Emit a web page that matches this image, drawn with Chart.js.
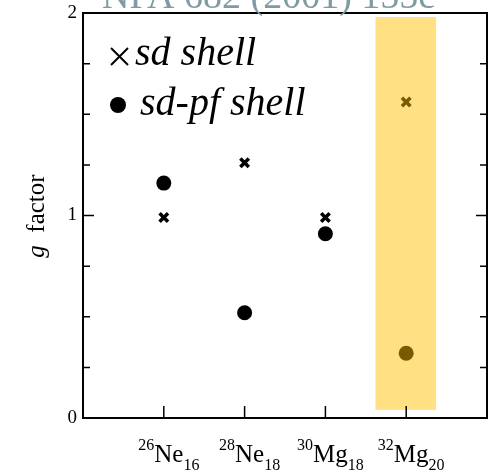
<!DOCTYPE html>
<html>
<head>
<meta charset="utf-8">
<script src="https://cdn.jsdelivr.net/npm/chart.js@4.4.0/dist/chart.umd.min.js"></script>
<style>
  html, body { margin: 0; padding: 0; background: #fff; }
  #wrap { width: 502px; height: 473px; position: relative; }
</style>
</head>
<body>
<div id="wrap"><canvas id="chart"></canvas></div>
<script>
// Nuclei along the x axis: mass number, element, neutron number
const massNumbers = ['26', '28', '30', '32'];
const elements = ['Ne', 'Ne', 'Mg', 'Mg'];
const neutronNumbers = ['16', '18', '18', '20'];

// g factors
const sdShell = [0.99, 1.26, 0.99, 1.56];
const sdPfShell = [1.16, 0.52, 0.91, 0.32];

// Highlighted nucleus (32Mg) band, in axis units
const bandX = [3.62, 4.37];
const bandY = [0.04, 1.98];
const highlightIndex = 3;

const yTickLabels = ['0', '1', '2'];

const serif = '"Liberation Serif", "DejaVu Serif", serif';

function pointsOf(values) {
  return values.map((v, i) => ({ x: i + 1, y: v }));
}
function colorsFor(values, normal, hi) {
  return values.map((v, i) => (i === highlightIndex ? hi : normal));
}

// Yellow band behind the 32Mg points
const bandPlugin = {
  id: 'band',
  beforeDatasetsDraw(chart) {
    const { ctx, scales: { x, y } } = chart;
    const x0 = x.getPixelForValue(bandX[0]);
    const x1 = x.getPixelForValue(bandX[1]);
    const y0 = y.getPixelForValue(bandY[1]);
    const y1 = y.getPixelForValue(bandY[0]);
    ctx.save();
    ctx.fillStyle = '#ffe083';
    ctx.fillRect(x0, y0, x1 - x0, y1 - y0);
    ctx.restore();
  }
};

// Frame, inward ticks, nuclide labels, legend and watermark
const decorPlugin = {
  id: 'decor',
  afterDraw(chart) {
    const { ctx, chartArea: a, scales: { x, y } } = chart;
    ctx.save();
    ctx.strokeStyle = '#000';
    ctx.lineWidth = 2;
    ctx.strokeRect(a.left, a.top, a.right - a.left, a.bottom - a.top);

    // y ticks on both sides
    ctx.lineWidth = 1.5;
    y.ticks.forEach(t => {
      const py = y.getPixelForValue(t.value);
      const len = Number.isInteger(t.value) ? 11 : 7;
      ctx.beginPath();
      ctx.moveTo(a.left, py); ctx.lineTo(a.left + len, py);
      ctx.moveTo(a.right, py); ctx.lineTo(a.right - len, py);
      ctx.stroke();
    });
    // x ticks at each nucleus
    massNumbers.forEach((m, i) => {
      const px = x.getPixelForValue(i + 1);
      ctx.beginPath();
      ctx.moveTo(px, a.bottom); ctx.lineTo(px, a.bottom - 12);
      ctx.stroke();
    });

    // nuclide labels with super/subscripts
    ctx.fillStyle = '#000';
    ctx.textBaseline = 'alphabetic';
    massNumbers.forEach((m, i) => {
      const px = x.getPixelForValue(i + 1);
      const base = a.bottom + 44;
      ctx.font = '16px ' + serif;
      const wm = ctx.measureText(m).width;
      const wn = ctx.measureText(neutronNumbers[i]).width;
      ctx.font = '25px ' + serif;
      const we = ctx.measureText(elements[i]).width;
      let sx = px + 5 - (wm + we + wn) / 2;
      ctx.font = '16px ' + serif;
      ctx.fillText(m, sx, base - 12);
      ctx.font = '25px ' + serif;
      ctx.fillText(elements[i], sx + wm, base);
      ctx.font = '16px ' + serif;
      ctx.fillText(neutronNumbers[i], sx + wm + we, base + 8);
    });

    // y axis title: italic g, upright "factor"
    ctx.save();
    ctx.translate(44, 216);
    ctx.rotate(-Math.PI / 2);
    ctx.font = 'italic 25px ' + serif;
    const wg = ctx.measureText('g').width;
    ctx.font = '25px ' + serif;
    const wf = ctx.measureText('  factor').width;
    const tx = -(wg + wf) / 2;
    ctx.font = 'italic 25px ' + serif;
    ctx.fillText('g', tx, 0);
    ctx.font = '25px ' + serif;
    ctx.fillText('  factor', tx + wg, 0);
    ctx.restore();

    // legend
    ctx.font = 'italic 40px ' + serif;
    ctx.fillText('sd shell', 135, 65);
    ctx.fillText('sd-pf shell', 140, 115);
    ctx.lineWidth = 2;
    ctx.beginPath();
    ctx.moveTo(111, 48); ctx.lineTo(128, 65);
    ctx.moveTo(128, 48); ctx.lineTo(111, 65);
    ctx.stroke();
    ctx.beginPath();
    ctx.arc(118, 105, 8, 0, Math.PI * 2);
    ctx.fill();

    // watermark
    ctx.fillStyle = '#7f9ba3';
    ctx.font = '38px ' + serif;
    ctx.fillText('NPA 682 (2001) 155c', 102, 8);
    ctx.restore();
  }
};

new Chart(document.getElementById('chart'), {
  type: 'scatter',
  data: {
    datasets: [
      {
        label: 'sd shell',
        data: pointsOf(sdShell),
        pointStyle: 'crossRot',
        pointRadius: 6,
        pointBorderWidth: 3.5,
        pointBorderColor: colorsFor(sdShell, '#000', '#7a5a00'),
        pointBackgroundColor: colorsFor(sdShell, '#000', '#7a5a00')
      },
      {
        label: 'sd-pf shell',
        data: pointsOf(sdPfShell),
        pointStyle: 'circle',
        pointRadius: 7.5,
        pointBorderWidth: 0,
        pointBorderColor: colorsFor(sdPfShell, '#000', '#7a5a00'),
        pointBackgroundColor: colorsFor(sdPfShell, '#000', '#7a5a00')
      }
    ]
  },
  options: {
    responsive: true,
    maintainAspectRatio: false,
    animation: false,
    layout: { padding: { left: 0, right: 15, top: 13, bottom: 0 } },
    plugins: {
      legend: { display: false },
      tooltip: { enabled: false }
    },
    scales: {
      x: {
        type: 'linear',
        min: 0,
        max: 5,
        grid: { display: false, drawTicks: false },
        border: { display: false },
        ticks: { stepSize: 1, display: false },
        afterFit(scale) {
          scale.height = 55;
          scale.paddingLeft = 0;
          scale.paddingRight = 0;
        }
      },
      y: {
        min: 0,
        max: 2,
        grid: { display: false, drawTicks: false },
        border: { display: false },
        ticks: {
          stepSize: 0.25,
          color: '#000',
          padding: 6,
          font: { family: serif, size: 19 },
          callback: v => (Number.isInteger(v) ? yTickLabels[v] : '')
        },
        afterFit(scale) {
          scale.width = 83;
          scale.paddingTop = 0;
          scale.paddingBottom = 0;
        }
      }
    }
  },
  plugins: [bandPlugin, decorPlugin]
});
</script>
</body>
</html>
